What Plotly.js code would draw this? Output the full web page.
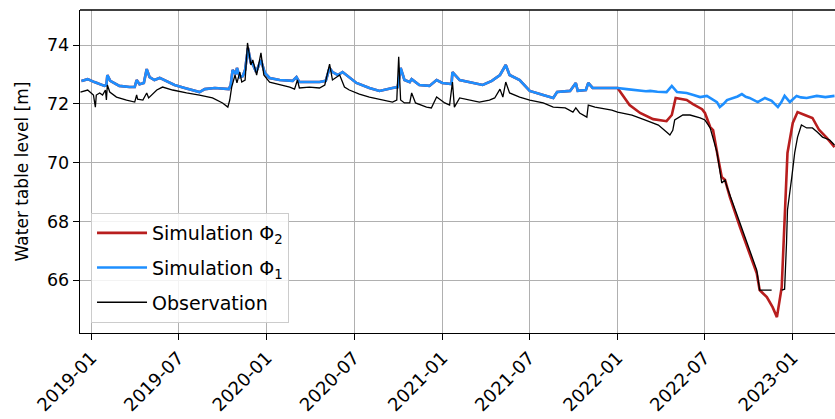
<!DOCTYPE html>
<html>
<head>
<meta charset="utf-8">
<script src="https://cdn.plot.ly/plotly-3.0.1.min.js"></script>
<style>html,body{margin:0;padding:0;background:#fff;}#chart{width:835px;height:419px;}</style>
</head>
<body>
<div id="chart"></div>
<script>
// Simulation Φ1 (blue)
const sim1Dates = ["2018-12-11","2018-12-24","2019-01-07","2019-01-28","2019-02-01","2019-02-03","2019-02-09","2019-02-28","2019-03-21","2019-04-01","2019-04-05","2019-04-11","2019-04-20","2019-04-26","2019-05-02","2019-05-12","2019-05-23","2019-06-02","2019-06-23","2019-07-14","2019-08-14","2019-08-25","2019-09-15","2019-10-14","2019-10-18","2019-10-22","2019-10-29","2019-10-31","2019-11-06","2019-11-12","2019-11-17","2019-11-23","2019-11-29","2019-12-03","2019-12-10","2019-12-20","2019-12-28","2020-01-07","2020-01-28","2020-02-24","2020-03-03","2020-03-09","2020-04-20","2020-05-03","2020-05-11","2020-05-17","2020-05-28","2020-06-07","2020-06-15","2020-07-06","2020-08-02","2020-08-23","2020-09-19","2020-09-30","2020-10-06","2020-10-14","2020-10-25","2020-10-29","2020-11-14","2020-12-05","2020-12-20","2021-01-01","2021-01-20","2021-01-22","2021-02-06","2021-03-05","2021-03-26","2021-04-14","2021-05-01","2021-05-13","2021-05-21","2021-06-11","2021-07-02","2021-07-30","2021-08-20","2021-08-28","2021-09-24","2021-10-06","2021-10-10","2021-10-27","2021-11-01","2021-11-10","2021-12-05","2022-01-01"];
const sim1Vals = [72.78,72.84,72.74,72.61,72.64,72.98,72.78,72.61,72.57,72.57,72.81,72.67,72.71,73.18,72.91,72.81,72.88,72.81,72.64,72.54,72.40,72.50,72.54,72.50,72.64,73.15,73.01,73.22,72.91,72.94,73.15,73.90,73.39,73.35,73.08,73.49,73.05,72.88,72.81,72.78,72.91,72.74,72.74,72.78,73.22,73.08,72.98,73.08,72.98,72.71,72.54,72.44,72.54,72.57,73.22,72.81,72.74,72.84,72.64,72.61,72.81,72.71,72.67,73.08,72.81,72.71,72.64,72.78,72.98,73.32,72.98,72.81,72.44,72.30,72.20,72.40,72.44,72.71,72.44,72.47,72.71,72.54,72.54,72.54];
const sim1TailDates = ["2022-01-20","2022-02-05","2022-02-17","2022-03-01","2022-03-10","2022-03-25","2022-04-13","2022-04-24","2022-05-05","2022-05-15","2022-05-25","2022-06-08","2022-06-22","2022-07-06","2022-07-15","2022-07-27","2022-08-02","2022-08-10","2022-08-17","2022-09-01","2022-09-08","2022-09-17","2022-09-25","2022-10-03","2022-10-12","2022-10-20","2022-11-04","2022-11-12","2022-11-18","2022-12-01","2022-12-08","2022-12-15","2022-12-26","2023-01-09","2023-01-18","2023-01-30","2023-02-10","2023-02-20","2023-03-10","2023-03-29"];
const sim1TailVals = [72.50,72.47,72.47,72.43,72.44,72.41,72.40,72.61,72.40,72.38,72.37,72.30,72.23,72.27,72.18,72.06,71.89,72.00,72.13,72.20,72.25,72.33,72.24,72.20,72.12,72.06,72.20,72.14,72.10,71.89,72.05,72.27,72.06,72.27,72.22,72.20,72.24,72.27,72.23,72.27];

// Simulation Φ2 (red): identical to Φ1 until 2022-01, then diverges
const sim2TailDates = ["2022-01-26","2022-02-17","2022-03-16","2022-04-13","2022-04-24","2022-05-02","2022-05-25","2022-06-07","2022-06-26","2022-07-02","2022-07-13","2022-07-19","2022-07-29","2022-08-06","2022-08-13","2022-08-23","2022-09-13","2022-10-03","2022-10-18","2022-10-24","2022-11-08","2022-11-20","2022-11-29","2022-12-09","2022-12-15","2022-12-21","2023-01-01","2023-01-11","2023-01-26","2023-02-11","2023-02-25","2023-03-13","2023-03-29"];
const sim2TailVals = [71.96,71.69,71.48,71.41,71.62,72.20,72.13,71.99,71.82,71.69,71.21,71.11,70.19,69.51,69.41,68.83,67.81,66.93,66.24,65.67,65.43,65.09,64.75,65.77,68.05,70.33,71.35,71.72,71.62,71.52,71.11,70.84,70.53];

// Observation (black)
const obsDates = ["2018-12-09","2018-12-24","2019-01-05","2019-01-09","2019-01-11","2019-01-18","2019-01-24","2019-01-30","2019-02-01","2019-02-03","2019-02-08","2019-02-22","2019-03-15","2019-04-01","2019-04-05","2019-04-07","2019-04-18","2019-04-26","2019-04-30","2019-05-17","2019-05-29","2019-06-19","2019-07-18","2019-08-14","2019-09-10","2019-10-01","2019-10-12","2019-10-16","2019-10-20","2019-10-27","2019-10-31","2019-11-06","2019-11-10","2019-11-17","2019-11-22","2019-11-29","2019-12-03","2019-12-11","2019-12-20","2019-12-26","2020-01-07","2020-02-04","2020-02-18","2020-02-28","2020-03-05","2020-03-09","2020-03-30","2020-04-20","2020-05-01","2020-05-11","2020-05-17","2020-06-01","2020-06-11","2020-06-21","2020-07-12","2020-08-02","2020-08-23","2020-09-19","2020-09-28","2020-10-02","2020-10-06","2020-10-14","2020-10-25","2020-10-29","2020-11-06","2020-11-29","2020-12-09","2020-12-20","2021-01-06","2021-01-16","2021-01-22","2021-01-26","2021-02-06","2021-02-27","2021-03-19","2021-04-09","2021-04-20","2021-05-01","2021-05-07","2021-05-13","2021-05-21","2021-06-11","2021-07-02","2021-07-30","2021-08-20","2021-09-14","2021-09-30","2021-10-06","2021-10-14","2021-10-29","2021-11-01","2021-11-15","2021-12-20","2022-01-01","2022-01-31","2022-02-28","2022-03-27","2022-04-13","2022-04-20","2022-04-26","2022-04-30","2022-05-17","2022-06-01","2022-06-22","2022-07-02","2022-07-13","2022-07-19","2022-07-27","2022-08-02","2022-08-06","2022-08-13","2022-08-17","2022-09-13","2022-10-03","2022-10-18","2022-10-24","2022-11-18","2022-11-30","2022-12-09","2022-12-15","2022-12-19","2022-12-21","2022-12-30","2023-01-05","2023-01-11","2023-01-19","2023-01-30","2023-02-11","2023-02-21","2023-03-04","2023-03-19","2023-03-29"];
const obsVals = [72.40,72.47,72.30,71.89,72.30,72.37,72.30,72.47,72.13,72.64,72.40,72.23,72.13,72.06,72.30,72.16,72.13,72.37,72.20,72.47,72.57,72.47,72.37,72.30,72.20,72.03,71.89,72.13,72.57,72.98,72.71,73.08,72.74,72.81,74.07,73.32,73.49,72.98,73.73,72.98,72.74,72.64,72.57,72.50,72.81,72.54,72.57,72.54,72.64,73.35,72.81,72.98,72.57,72.47,72.33,72.23,72.16,72.06,72.13,73.60,72.13,72.03,72.03,72.37,72.03,71.89,71.86,72.23,72.03,71.96,72.74,71.89,72.20,72.13,72.06,72.13,72.20,72.50,72.23,72.74,72.37,72.23,72.13,72.03,71.89,71.86,71.72,71.86,71.69,71.55,71.96,71.89,71.79,71.72,71.62,71.45,71.28,71.04,70.94,71.10,71.45,71.62,71.62,71.52,71.45,71.18,70.84,70.36,69.75,69.31,69.41,69.17,67.95,67.03,66.35,65.67,65.67,null,65.67,65.70,67.27,68.39,69.51,70.33,70.87,71.28,71.18,71.18,71.04,70.87,70.77,70.60];

const xTicks = ["2019-01-01","2019-07-01","2020-01-01","2020-07-01","2021-01-01","2021-07-01","2022-01-01","2022-07-01","2023-01-01"];
const xTickLabels = ["2019-01","2019-07","2020-01","2020-07","2021-01","2021-07","2022-01","2022-07","2023-01"];
const yTicks = [66, 68, 70, 72, 74];

const sim1X = sim1Dates.concat(sim1TailDates);
const sim1Y = sim1Vals.concat(sim1TailVals);
const sim2X = sim1Dates.concat(sim2TailDates);
const sim2Y = sim1Vals.concat(sim2TailVals);

const fam = "DejaVu Sans";

const traces = [
  {x: sim2X, y: sim2Y, type: "scatter", mode: "lines", name: "Simulation Φ<sub>2</sub>",
   line: {color: "#b81e1e", width: 2.6}, legendgroup: "a"},
  {x: sim1X, y: sim1Y, type: "scatter", mode: "lines", name: "Simulation Φ<sub>1</sub>",
   line: {color: "#1e8fff", width: 2.6}, legendgroup: "b"},
  {x: obsDates, y: obsVals, type: "scatter", mode: "lines", name: "Observation",
   line: {color: "#000", width: 1.3}, legendgroup: "c", connectgaps: false}
];

const layout = {
  width: 835, height: 419,
  margin: {l: 80, r: 0, t: 10, b: 86},
  paper_bgcolor: "#fff", plot_bgcolor: "#fff",
  font: {family: fam, size: 17, color: "#000"},
  showlegend: true,
  legend: {x: 0.0146, y: 0.031, xanchor: "left", yanchor: "bottom",
    bgcolor: "rgba(255,255,255,0.85)", bordercolor: "#cccccc", borderwidth: 1,
    font: {family: fam, size: 19, color: "#000"}, tracegroupgap: 7, itemwidth: 50},
  xaxis: {
    type: "date", range: ["2018-12-08", "2023-03-30"],
    tickmode: "array", tickvals: xTicks, ticktext: xTickLabels, tickangle: -45,
    showgrid: true, gridcolor: "#b0b0b0", gridwidth: 1,
    showline: true, linecolor: "#000", linewidth: 1.3,
    ticks: "outside", ticklen: 6, tickcolor: "#000", zeroline: false,
    tickfont: {family: fam, size: 18, color: "#000"}
  },
  yaxis: {
    range: [64.21, 75.19], tickmode: "array", tickvals: yTicks,
    showgrid: true, gridcolor: "#b0b0b0", gridwidth: 1,
    showline: true, linecolor: "#000", linewidth: 1.3,
    ticks: "outside", ticklen: 6, tickcolor: "#000", zeroline: false,
    tickfont: {family: fam, size: 17.5, color: "#000"},
    title: {text: "Water table level [m]", font: {family: fam, size: 17, color: "#000"}, standoff: 14}
  },
  shapes: [
    {type: "line", xref: "paper", yref: "paper", x0: 0, x1: 1, y0: 1, y1: 1,
     line: {color: "#000", width: 1.3}}
  ]
};

Plotly.newPlot("chart", traces, layout, {displayModeBar: false, staticPlot: true});
</script>
</body>
</html>
